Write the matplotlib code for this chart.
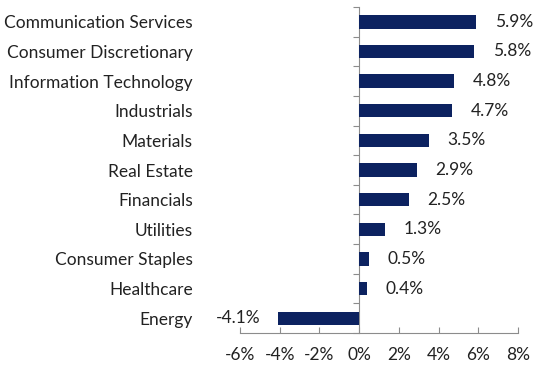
import numpy as np
import matplotlib
matplotlib.use("Agg")
import matplotlib.pyplot as plt

plt.rcParams['font.family'] = ['Lato', 'DejaVu Sans']

# sector returns (%), top to bottom
sectors = ['Communication Services', 'Consumer Discretionary', 'Information Technology',
           'Industrials', 'Materials', 'Real Estate', 'Financials', 'Utilities',
           'Consumer Staples', 'Healthcare', 'Energy']
returns = [5.9, 5.8, 4.8, 4.7, 3.5, 2.9, 2.5, 1.3, 0.5, 0.4, -4.1]
xticks = [-6, -4, -2, 0, 2, 4, 6, 8]

navy = '#0c2260'
grey = '#8c8c8c'
txt = '#222222'
fs = 12.5

fig = plt.figure(figsize=(5.37, 3.70), dpi=100)
ax = fig.add_axes([0.4469, 0.10, 0.5177, 0.881])

y = np.arange(len(sectors))
ax.barh(y, returns, height=0.45, color=navy)

ax.set_xlim(-6, 8)
ax.set_ylim(len(sectors) - 0.5, -0.5)

# value labels
for yi, v in zip(y, returns):
    if v >= 0:
        ax.annotate(f'{v:.1f}%', (v, yi), xytext=(13.5, 0), textcoords='offset points',
                    ha='left', va='center', fontsize=fs, color=txt)
    else:
        ax.annotate(f'{v:.1f}%', (v, yi), xytext=(-12.5, 0), textcoords='offset points',
                    ha='right', va='center', fontsize=fs, color=txt)

for s in ['top', 'right', 'left']:
    ax.spines[s].set_visible(False)
ax.spines['bottom'].set_color(grey)

ax.set_xticks(xticks)
ax.set_xticklabels([f'{t}%' for t in xticks], fontsize=fs, color=txt)
ax.tick_params(axis='x', direction='in', length=4, color=grey, pad=10)

ax.set_yticks(y)
ax.set_yticklabels(sectors, fontsize=fs, color=txt)
ax.tick_params(axis='y', length=0, pad=34)

# zero line with category boundary ticks
zero_ax = ax.secondary_yaxis(6 / 14)
zero_ax.set_yticks(np.arange(len(sectors) + 1) - 0.5)
zero_ax.set_yticklabels([])
zero_ax.tick_params(axis='y', direction='out', length=4, color=grey)
zero_ax.spines['left'].set_color(grey)

fig.savefig('out.png', dpi=100)
